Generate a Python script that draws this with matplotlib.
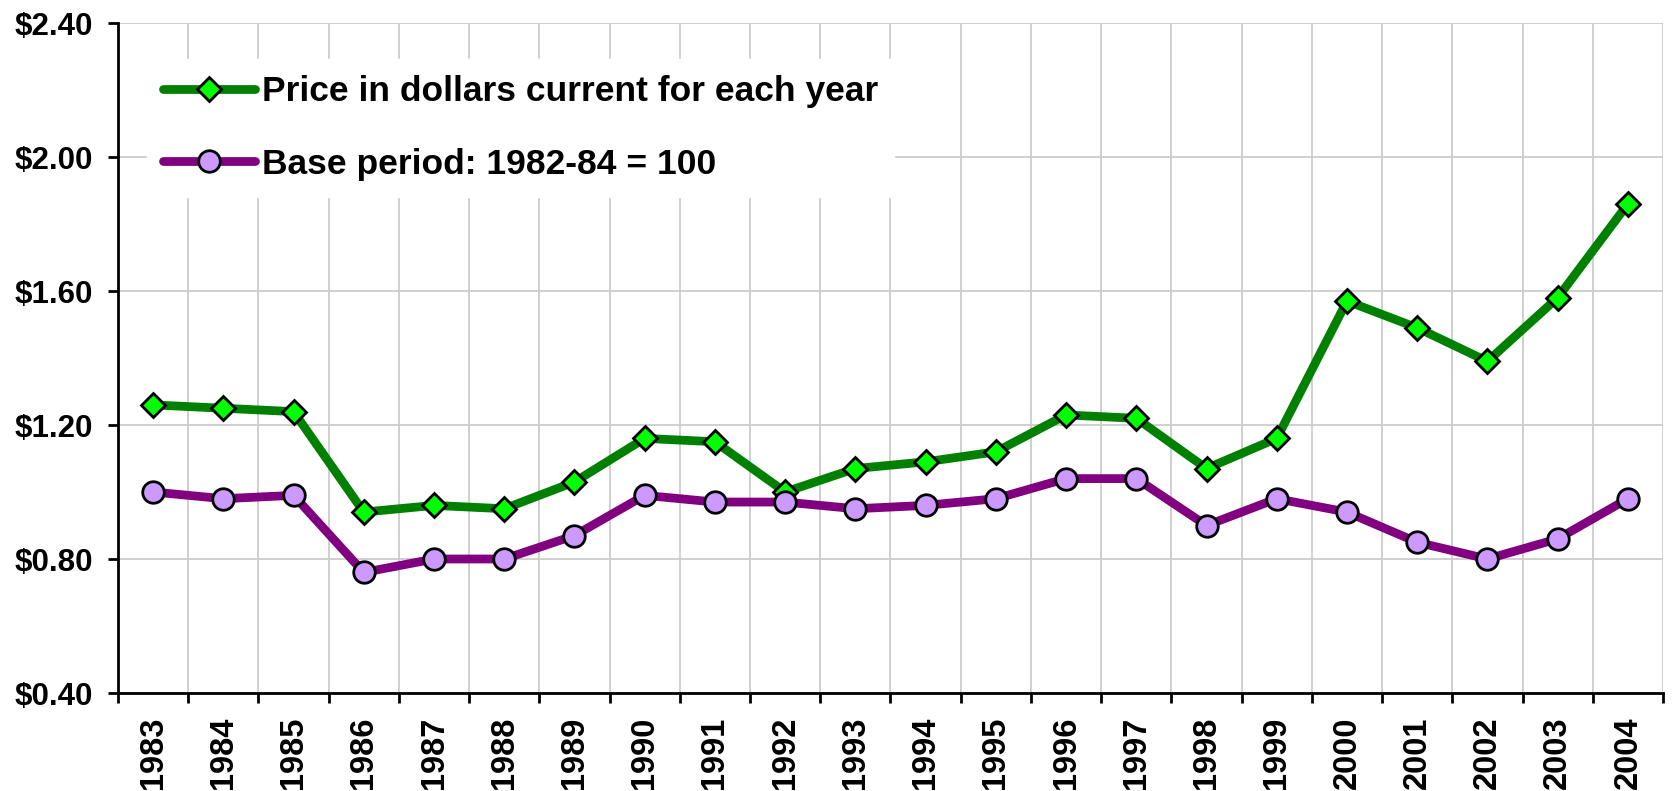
import matplotlib
matplotlib.use("Agg")
import matplotlib.pyplot as plt
import numpy as np

years = ["1983", "1984", "1985", "1986", "1987", "1988", "1989", "1990", "1991", "1992", "1993",
         "1994", "1995", "1996", "1997", "1998", "1999", "2000", "2001", "2002", "2003", "2004"]
price_current = [1.26, 1.25, 1.24, 0.94, 0.96, 0.95, 1.03, 1.16, 1.15, 1.00, 1.07,
                 1.09, 1.12, 1.23, 1.22, 1.07, 1.16, 1.57, 1.49, 1.39, 1.58, 1.86]
price_base = [1.00, 0.98, 0.99, 0.76, 0.80, 0.80, 0.87, 0.99, 0.97, 0.97, 0.95,
              0.96, 0.98, 1.04, 1.04, 0.90, 0.98, 0.94, 0.85, 0.80, 0.86, 0.98]
label_current = "Price in dollars current for each year"
label_base = "Base period: 1982-84 = 100"
yticks = [0.40, 0.80, 1.20, 1.60, 2.00, 2.40]

plt.rcParams['font.family'] = ['Liberation Sans', 'DejaVu Sans']
plt.rcParams['font.weight'] = 'bold'

fig = plt.figure(figsize=(16.74, 7.91), dpi=100)
L, R, T, B = 118, 1663, 23, 693
W, H = 1674, 791
ax = fig.add_axes([L / W, 1 - B / H, (R - L) / W, (B - T) / H])

x = np.arange(len(years))
ax.plot(x, price_current, color='#008000', lw=6.3, marker='D', ms=12.5,
        mfc='#00FF00', mec='black', mew=2, label=label_current, zorder=3,
        solid_capstyle='round')
ax.plot(x, price_base, color='#800080', lw=6.3, marker='o', ms=15.5,
        mfc='#CC99FF', mec='black', mew=2, label=label_base, zorder=3,
        solid_capstyle='round')

ax.set_xlim(-0.5, len(years) - 0.5)
ax.set_ylim(0.40, 2.40)
ax.set_yticks(yticks)
ax.set_yticklabels([f"${v:.2f}" for v in yticks], fontsize=22.5, fontweight='bold')
ax.set_xticks(x)
ax.set_xticklabels(years, rotation=90, fontsize=23.5, fontweight='bold')
ax.set_xticks(np.arange(-0.5, len(years)), minor=True)
ax.tick_params(axis='x', which='major', length=0, pad=17)
ax.tick_params(axis='x', which='minor', length=7, width=2, direction='out')
ax.tick_params(axis='y', which='major', length=7, width=2, direction='out', pad=11)

ax.grid(axis='y', which='major', color='#cccccc', lw=1.3)
ax.grid(axis='x', which='minor', color='#cccccc', lw=1.3)
ax.set_axisbelow(True)

for s in ['top', 'right']:
    ax.spines[s].set_visible(False)
for s in ['left', 'bottom']:
    ax.spines[s].set_linewidth(2)
    ax.spines[s].set_zorder(4)

leg = ax.legend(loc='upper left', bbox_to_anchor=((147 - L) / (R - L), (B - 59) / (B - T)),
                borderaxespad=0, fontsize=25.5,
                frameon=True, fancybox=False, handlelength=2.6, handletextpad=0.2,
                labelspacing=1.12, borderpad=0.45)
leg.get_frame().set_facecolor('white')
leg.get_frame().set_edgecolor('white')
leg.get_frame().set_alpha(1)
for t in leg.get_texts():
    t.set_fontweight('bold')

fig.savefig("out.png", dpi=100)
